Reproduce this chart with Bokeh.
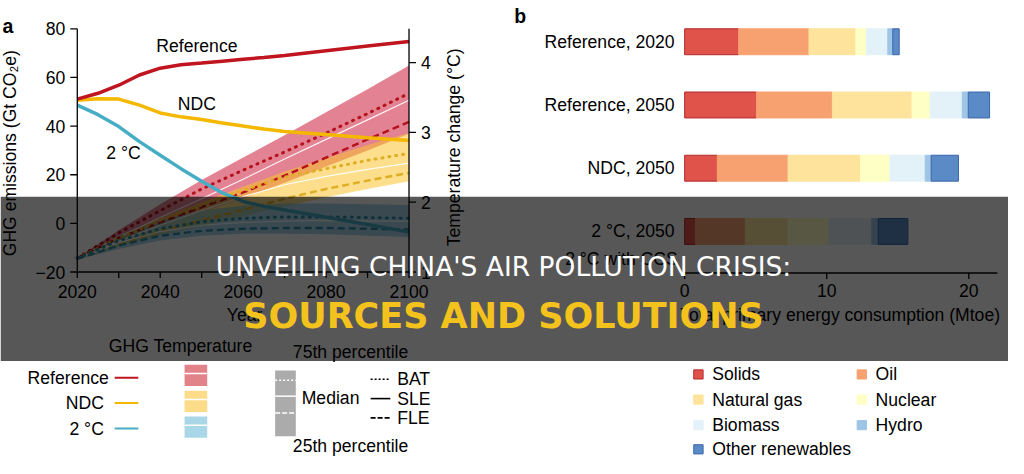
from math import pi
from bokeh.plotting import figure
from bokeh.models import Range1d, Label, BoxAnnotation, ColumnDataSource
from bokeh.core.properties import value
from bokeh.embed import file_html
from bokeh.resources import INLINE

# ---------------- Panel a data ----------------
ghg_years = [2020, 2025, 2030, 2035, 2040, 2045, 2050, 2055, 2060, 2065, 2070, 2080, 2090, 2100]
ghg_reference = [51.1, 53.5, 56.8, 61.0, 63.8, 65.2, 65.9, 66.7, 67.5, 68.2, 69.0, 71.0, 72.9, 74.8]
ghg_ndc = [50.6, 51.2, 51.1, 48.6, 45.4, 43.8, 42.7, 41.3, 40.0, 38.8, 37.8, 36.5, 35.2, 34.1]
ghg_2c = [48.6, 44.7, 39.8, 33.6, 28.0, 22.5, 17.3, 12.5, 9.0, 7.0, 5.5, 2.5, -0.5, -3.6]

temp_years = [2020, 2030, 2040, 2050, 2060, 2070, 2080, 2090, 2100]
ref_p75 = [1.20, 1.60, 1.97, 2.32, 2.64, 2.96, 3.29, 3.62, 3.96]
ref_p25 = [1.19, 1.45, 1.66, 1.86, 2.06, 2.28, 2.51, 2.74, 2.98]
ref_bat = [1.20, 1.56, 1.88, 2.19, 2.46, 2.72, 2.99, 3.27, 3.56]
ref_sle = [1.20, 1.50, 1.78, 2.05, 2.33, 2.62, 2.90, 3.18, 3.46]
ref_fle = [1.20, 1.49, 1.71, 1.93, 2.14, 2.38, 2.64, 2.90, 3.15]
ndc_p75 = [1.20, 1.50, 1.77, 2.00, 2.22, 2.44, 2.63, 2.82, 2.99]
ndc_p25 = [1.18, 1.36, 1.52, 1.66, 1.80, 1.94, 2.07, 2.19, 2.30]
ndc_bat = [1.20, 1.48, 1.74, 1.96, 2.17, 2.36, 2.48, 2.60, 2.70]
ndc_sle = [1.19, 1.44, 1.67, 1.88, 2.08, 2.25, 2.37, 2.47, 2.56]
ndc_fle = [1.19, 1.40, 1.58, 1.74, 1.89, 2.05, 2.19, 2.31, 2.42]
c2_p75 = [1.20, 1.52, 1.74, 1.88, 1.95, 1.98, 1.98, 1.97, 1.96]
c2_p25 = [1.18, 1.33, 1.45, 1.52, 1.55, 1.55, 1.54, 1.52, 1.50]
c2_bat = [1.20, 1.45, 1.62, 1.72, 1.77, 1.79, 1.79, 1.78, 1.77]
c2_sle = [1.19, 1.42, 1.58, 1.67, 1.71, 1.73, 1.74, 1.73, 1.73]
c2_fle = [1.19, 1.38, 1.52, 1.59, 1.62, 1.63, 1.63, 1.62, 1.61]

year_ticks = [2020, 2030, 2040, 2050, 2060, 2070, 2080, 2090, 2100]
year_labels = [2020, 2040, 2060, 2080, 2100]
ghg_ticks = [-20, 0, 20, 40, 60, 80]
ghg_tick_labels = ["\u221220", "0", "20", "40", "60", "80"]
temp_ticks = [1, 2, 3, 4]

# ---------------- Panel b data ----------------
rows = ["Reference, 2020", "Reference, 2050", "NDC, 2050", "2 \u00b0C, 2050"]
solids = [3.80, 5.06, 2.29, 0.76]
oil = [4.95, 5.34, 4.99, 3.51]
natural_gas = [3.30, 5.60, 5.10, 3.01]
nuclear = [0.75, 1.28, 2.08, 2.88]
biomass = [1.50, 2.26, 2.47, 3.01]
hydro = [0.35, 0.42, 0.42, 0.46]
other_renewables = [0.45, 1.50, 1.92, 2.08]
energy_ticks = [0, 10, 20]
energy_axis_end = 22

sources = ["Solids", "Oil", "Natural gas", "Nuclear", "Biomass", "Hydro", "Other renewables"]
src_fill = ["#e0534b", "#f7a170", "#fde39b", "#feffc4", "#e3f1f8", "#9fc5e6", "#5b8bc7"]
src_line = ["#b42a2a", "#f7a170", "#fde39b", "#feffc4", "#e3f1f8", "#9fc5e6", "#3a66a8"]

# ---------------- layout helpers ----------------
W, H = 1008, 458          # canvas size
RW, RH = 1024, 474        # layout design size (page units)
FONT = value("Liberation Sans")
FS = "17.6px"


def px_x(rx):
    return rx * W / RW


def px_y(ry):
    return (RH - ry) * H / RH


def fit_range(v0, p0, v1, p1, size):
    scale = (p1 - p0) / (v1 - v0)
    start = v0 - p0 / scale
    return Range1d(start=start, end=start + size / scale)


p = figure(width=W, height=H, x_range=Range1d(0, RW), y_range=Range1d(RH, 0),
           x_axis_location=None, y_axis_location=None, min_border=0,
           toolbar_location=None, output_backend="svg", title=None)
p.grid.visible = False
p.outline_line_color = None
p.background_fill_color = "white"
p.border_fill_color = "white"

p.extra_x_ranges = {
    "year": fit_range(2020, px_x(78), 2100, px_x(415), W),
    "energy": fit_range(0, px_x(695), 20, px_x(983.7), W),
}
p.extra_y_ranges = {
    "ghg": fit_range(-20, px_y(281), 80, px_y(29.3), H),
    "temp": fit_range(1, px_y(281), 4, px_y(64.3), H),
    "row": fit_range(0, px_y(42.7), 3, px_y(239), H),
}

A = dict(x_range_name="year", y_range_name="ghg")
T = dict(x_range_name="year", y_range_name="temp")


def txt(x, y, s, size=FS, align="left", baseline="middle", color="black",
        style="normal", angle=0.0, xo=0, yo=0, rng=None, font=FONT):
    kw = rng or {}
    p.text(x=x, y=y, text=s, text_font=font, text_font_size=size, text_align=align,
           text_baseline=baseline, text_color=color, text_font_style=style,
           angle=angle, x_offset=xo, y_offset=yo, **kw)


# ---------------- Panel a: temperature bands ----------------
bands = [
    (ref_p25, ref_p75, "#c8102e", 0.52),
    (ndc_p25, ndc_p75, "#f9c22e", 0.55),
    (c2_p25, c2_p75, "#5fb6d6", 0.55),
]
for lo, hi, col, a in bands:
    p.varea(x=temp_years, y1=lo, y2=hi, fill_color=col, fill_alpha=a, **T)

pct_lines = [
    (ref_bat, ref_sle, ref_fle, "#b5121b"),
    (ndc_bat, ndc_sle, ndc_fle, "#dfae22"),
    (c2_bat, c2_sle, c2_fle, "#2d8aa6"),
]
for bat, sle, fle, col in pct_lines:
    p.line(temp_years, sle, line_color="white", line_width=1.2, line_alpha=0.9, **T)
    p.line(temp_years, fle, line_color=col, line_width=2.4, line_dash="7 4", **T)
    p.line(temp_years, bat, line_color=col, line_width=3, line_dash="1 6", line_cap="round", **T)

# ---------------- Panel a: GHG emission lines ----------------
p.line(ghg_years, ghg_ndc, line_color="#f5b800", line_width=3.5, **A)
p.line(ghg_years, ghg_2c, line_color="#47adc4", line_width=3.5, **A)
p.line(ghg_years, ghg_reference, line_color="#c0141f", line_width=3.5, **A)

# ---------------- Panel a: axes (drawn through the scales) ----------------
p.segment(x0=[year_ticks[0]], y0=[ghg_ticks[0]], x1=[year_ticks[-1]], y1=[ghg_ticks[0]],
          line_color="black", line_width=1.3, **A)
p.segment(x0=[year_ticks[0]], y0=[ghg_ticks[0]], x1=[year_ticks[0]], y1=[ghg_ticks[-1]],
          line_color="black", line_width=1.3, **A)
p.segment(x0=[year_ticks[-1]], y0=[ghg_ticks[0]], x1=[year_ticks[-1]], y1=[ghg_ticks[-1]],
          line_color="black", line_width=1.3, **A)
p.ray(x=year_ticks, y=[ghg_ticks[0]] * len(year_ticks), length=6, length_units="screen",
      angle=-pi / 2, line_color="black", line_width=1.3, **A)
p.ray(x=[year_ticks[0]] * len(ghg_ticks), y=ghg_ticks, length=7, length_units="screen",
      angle=pi, line_color="black", line_width=1.3, **A)
p.ray(x=[year_ticks[-1]] * len(temp_ticks), y=temp_ticks, length=7, length_units="screen",
      angle=0, line_color="black", line_width=1.3, **T)

txt([year_ticks[0]] * len(ghg_ticks), ghg_ticks, ghg_tick_labels, align="right", xo=-12, rng=A)
txt([year_ticks[-1]] * len(temp_ticks), temp_ticks, [str(t) for t in temp_ticks], align="left", xo=12, rng=T)
txt(year_labels, [ghg_ticks[0]] * len(year_labels), [str(y) for y in year_labels], align="center",
    yo=19, rng=A)

txt([248], [325], ["Year"], align="center")
txt([10], [158], ["GHG emissions (Gt CO\u2082e)"], align="center", angle=pi / 2)
txt([461], [152], ["Temperature change (\u00b0C)"], align="center", angle=pi / 2)
txt([199.5], [47], ["Reference"], align="center")
txt([199.5], [107], ["NDC"], align="center")
txt([125], [158], ["2 \u00b0C"], align="center")
txt([2], [26.5], ["a"], size="19.5px", style="bold", baseline="alphabetic")
txt([522], [16.5], ["b"], size="19.5px", style="bold", baseline="alphabetic")

# ---------------- Panel b: stacked bars ----------------
src = ColumnDataSource(dict(row=list(range(len(rows))), solids=solids, oil=oil,
                            natural_gas=natural_gas, nuclear=nuclear, biomass=biomass,
                            hydro=hydro, other_renewables=other_renewables))
p.hbar_stack(["solids", "oil", "natural_gas", "nuclear", "biomass", "hydro", "other_renewables"],
             y="row", height=0.41, fill_color=src_fill, line_color=src_line, line_width=1,
             source=src, x_range_name="energy", y_range_name="row")
txt([0] * len(rows), list(range(len(rows))), rows, align="right", xo=-10,
    rng=dict(x_range_name="energy", y_range_name="row"))
txt([688], [268], ["2 \u00b0C with CCS"], align="right")

# panel b axis (x in energy units, y at the axis baseline)
B = dict(x_range_name="energy")
p.segment(x0=[energy_ticks[0]], y0=[282], x1=[energy_axis_end], y1=[282],
          line_color="black", line_width=1.3, **B)
p.ray(x=energy_ticks, y=[282] * len(energy_ticks), length=6, length_units="screen",
      angle=-pi / 2, line_color="black", line_width=1.3, **B)
txt(energy_ticks, [282] * len(energy_ticks), [str(t) for t in energy_ticks], align="center",
    yo=18, rng=B)
txt([853], [326], ["Total primary energy consumption (Mtoe)"], align="center")

# ---------------- Legend panel a ----------------
txt([110], [358], ["GHG Temperature"])
leg_names = ["Reference", "NDC", "2 \u00b0C"]
leg_cols = ["#c0141f", "#f5b800", "#47adc4"]
leg_y = [390.5, 416.5, 443]
txt([110, 105, 105], leg_y, leg_names, align="right")
p.segment(x0=[116] * 3, y0=leg_y, x1=[140] * 3, y1=leg_y, line_color=leg_cols, line_width=2)
p.rect(x=[198.5] * 3, y=[388, 415, 441.5], width=23, height=22,
       fill_color=["#e2838a", "#fcdc88", "#a9d7e8"], line_color=None)
p.segment(x0=[187] * 3, y0=[386, 413, 439.5], x1=[210] * 3, y1=[386, 413, 439.5],
          line_color="white", line_width=1.5)
p.rect(x=[289.5], y=[417], width=21, height=68, fill_color="#ababab", line_color=None)
p.segment(x0=[279], y0=[393], x1=[300], y1=[393], line_color="white", line_width=1.5, line_dash="2 2")
p.segment(x0=[279], y0=[409.5], x1=[300], y1=[409.5], line_color="white", line_width=1.5)
p.segment(x0=[279], y0=[427], x1=[300], y1=[427], line_color="white", line_width=1.5, line_dash="5 2")
txt([297], [364], ["75th percentile"])
txt([297], [461], ["25th percentile"])
txt([306], [411], ["Median"])
p.segment(x0=[376], y0=[392], x1=[396], y1=[392], line_color="black", line_width=1.6, line_dash="2 2")
p.segment(x0=[376], y0=[412], x1=[396], y1=[412], line_color="black", line_width=1.6)
p.segment(x0=[376], y0=[432], x1=[396], y1=[432], line_color="black", line_width=1.6, line_dash="5 2")
txt([403] * 3, [392, 412, 432.5], ["BAT", "SLE", "FLE"])

# ---------------- Legend panel b ----------------
lx = [709, 875, 709, 875, 709, 875, 709]
ly = [387, 387, 413, 413, 439.5, 439.5, 464.5]
p.rect(x=lx, y=ly, width=9.5, height=9.5, fill_color=src_fill, line_color=src_line, line_width=1)
txt([x + 14 for x in lx], ly, sources)

# ---------------- Banner overlay ----------------
p.add_layout(BoxAnnotation(top=203, bottom=373, fill_color="black", fill_alpha=0.66, line_color=None))
p.add_layout(Label(x=511, y=275, text="UNVEILING CHINA'S AIR POLLUTION CRISIS:", text_align="center",
                   text_baseline="alphabetic", text_color="white", text_font_size="26.5px",
                   text_font="DejaVu Sans"))
p.add_layout(Label(x=511, y=327, text="SOURCES AND SOLUTIONS", text_align="center",
                   text_baseline="alphabetic", text_color="#f4c21c", text_font_size="35px",
                   text_font="DejaVu Sans", text_font_style="bold"))

open("out.html", "w").write(file_html(p, INLINE))
